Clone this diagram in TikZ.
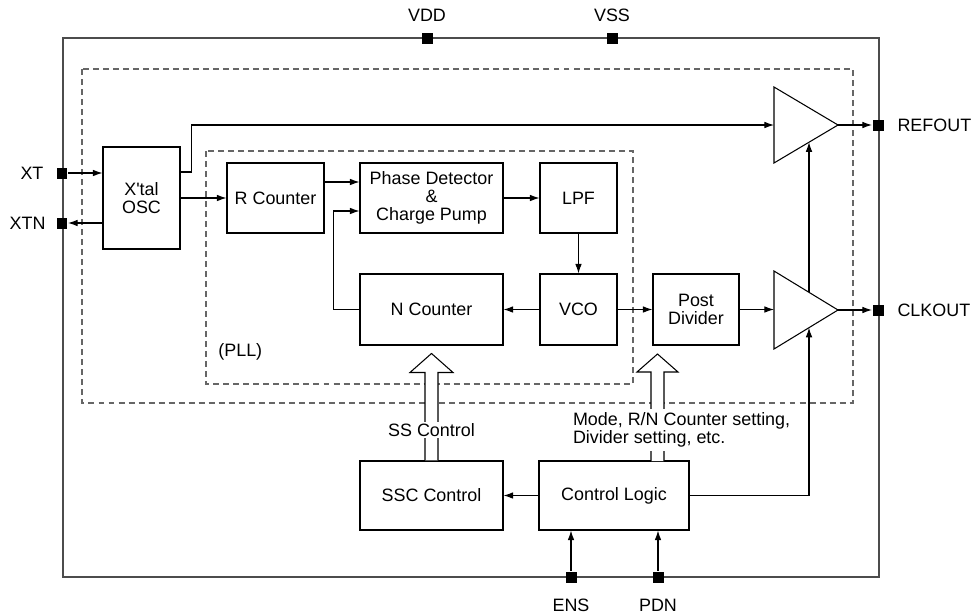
\documentclass[tikz,border=0pt]{standalone}
\usepackage{fontspec}
\setmainfont{Liberation Sans}
\usetikzlibrary{arrows.meta,calc}
\definecolor{framegray}{rgb}{0.3,0.3,0.3}
\definecolor{dashgray}{rgb}{0.4,0.4,0.4}

\begin{document}
\begin{tikzpicture}[x=0.02cm, y=-0.02cm, line width=0.6pt,
		font=\fontsize{10.2}{10.4}\selectfont,
		blk/.style={draw, inner sep=0pt, align=center, minimum height=1.4cm},
		pin/.style={fill=black, inner sep=0pt, minimum size=0.22cm},
		sig/.style={-{Latex[length=5.5pt,width=3.8pt]}},
		frm/.style={draw=dashgray, dash pattern=on 3.4pt off 2.3pt}]
		\useasboundingbox (0,0) rectangle (975,616);
		
		\draw[framegray, line width=0.75pt] (63,38) rectangle (879,577);
		\draw[frm] (82,69) rectangle (853,403);
		\draw[frm] (206,151) rectangle (633,384);
		
		\node[blk, minimum width=1.54cm, minimum height=2.04cm] (xtal) at (141.5,198) {X\textquotesingle tal\\OSC};
		\node[blk, minimum width=1.94cm] (rcnt) at (275.5,198) {R Counter};
		\node[blk, minimum width=2.86cm] (pd) at (431.5,198) {Phase Detector\\\&\\Charge Pump};
		\node[blk, minimum width=1.54cm] (lpf) at (578.5,198) {LPF};
		\node[blk, minimum width=2.86cm, minimum height=1.42cm] (ncnt) at (431.5,309.5) {N Counter};
		\node[blk, minimum width=1.54cm, minimum height=1.42cm] (vco) at (578.5,309.5) {VCO};
		\node[blk, minimum width=1.72cm, minimum height=1.42cm] (pdiv) at (696,309.5) {Post\\Divider};
		\node[blk, minimum width=2.86cm, minimum height=1.38cm] (ssc) at (431.5,495.5) {SSC Control};
		\node[blk, minimum width=3.0cm, minimum height=1.38cm] (ctrl) at (614,495.5) {Control Logic};
		\node[anchor=west] (plll) at (212,352) {(PLL)};
		
		\draw (774,87) coordinate (reft) -- (838,125) coordinate (refo) -- (774,163) coordinate (refb) -- cycle;
		\draw (774,271) coordinate (clkt) -- (838,310) coordinate (clko) -- (774,349) coordinate (clkb) -- cycle;
		
		\node[pin] (vdd) at (427,38) {};
		\node[pin] (vss) at (612,38) {};
		\node[pin] (ens) at (571,577) {};
		\node[pin] (pdn) at (658,577) {};
		\node[pin] (xt) at (62,173) {};
		\node[pin] (xtn) at (62,223) {};
		\node[pin] (refpin) at (878,125) {};
		\node[pin] (clkpin) at (878,310) {};
		\node (vddl) at (427,15) {VDD};
		\node (vssl) at (612,15) {VSS};
		\node (ensl) at (571,605) {ENS};
		\node (pdnl) at (658,605) {PDN};
		\node[anchor=east, inner sep=0pt] (xtl) at ($(xt.west)+(-12,0)$) {XT};
		\node[anchor=east, inner sep=0pt] (xtnl) at ($(xtn.west)+(-10,0)$) {XTN};
		\node[anchor=west, inner sep=0pt] (refl) at ($(refpin.east)+(13,0)$) {REFOUT};
		\node[anchor=west, inner sep=0pt] (clkl) at ($(clkpin.east)+(13,0)$) {CLKOUT};
		
		\draw[sig] (xt.east) -- (xt -| xtal.west);
		\draw[sig] (xtn -| xtal.west) -- (xtn.east);
		\draw[sig] (xtal) -- (rcnt);
		\draw[sig] ($(xtal.east)+(0,-26)$) -- ++(11,0) |- (reft |- refo);
		\draw[sig] ($(rcnt.east)+(0,-16)$) -- ($(pd.west)+(0,-16)$);
		\draw[sig] (pd) -- (lpf);
		\draw[sig] (lpf) -- (vco);
		\draw[sig] (vco) -- (ncnt);
		\draw[sig] (ncnt.west) -- ++(-26,0) |- ($(pd.west)+(0,13)$);
		\draw[sig] (vco) -- (pdiv);
		\draw[sig] (pdiv) -- (pdiv -| clkt);
		\draw[sig] (refo) -- (refpin.west);
		\draw[sig] (clko) -- (clkpin.west);
		\draw[sig] (ctrl) -- (ssc);
		\draw[sig] (ctrl.east) -| ($(clkb)!0.547!(clko)$);
		\draw[sig] ($(clkt)!0.547!(clko)$) -- ($(refb)!0.547!(refo)$);
		\draw[sig] (ens.north) -- (ens |- ctrl.south);
		\draw[sig] (pdn.north) -- (pdn |- ctrl.south);
		
		\draw[fill=white] ($(ssc.north)+(-6.5,0)$) -- ++(0,-88) -- ++(-15,0) -- ++(21.5,-19)
			-- ++(21.5,19) -- ++(-15,0) -- ++(0,88);
		\coordinate (modebase) at (657.5,461);
		\draw[fill=white] ($(modebase)+(-6.5,0)$) -- ++(0,-89) -- ++(-14,0) -- ++(20.5,-18)
			-- ++(20.5,18) -- ++(-14,0) -- ++(0,89);
		\node[fill=white, inner sep=1pt] (ssl) at (431.5,430) {SS Control};
		\node[fill=white, inner sep=2pt, anchor=west, align=left] (model) at (569,430) {Mode, R/N Counter setting,\\Divider setting, etc.};
	\end{tikzpicture}
\end{document}
